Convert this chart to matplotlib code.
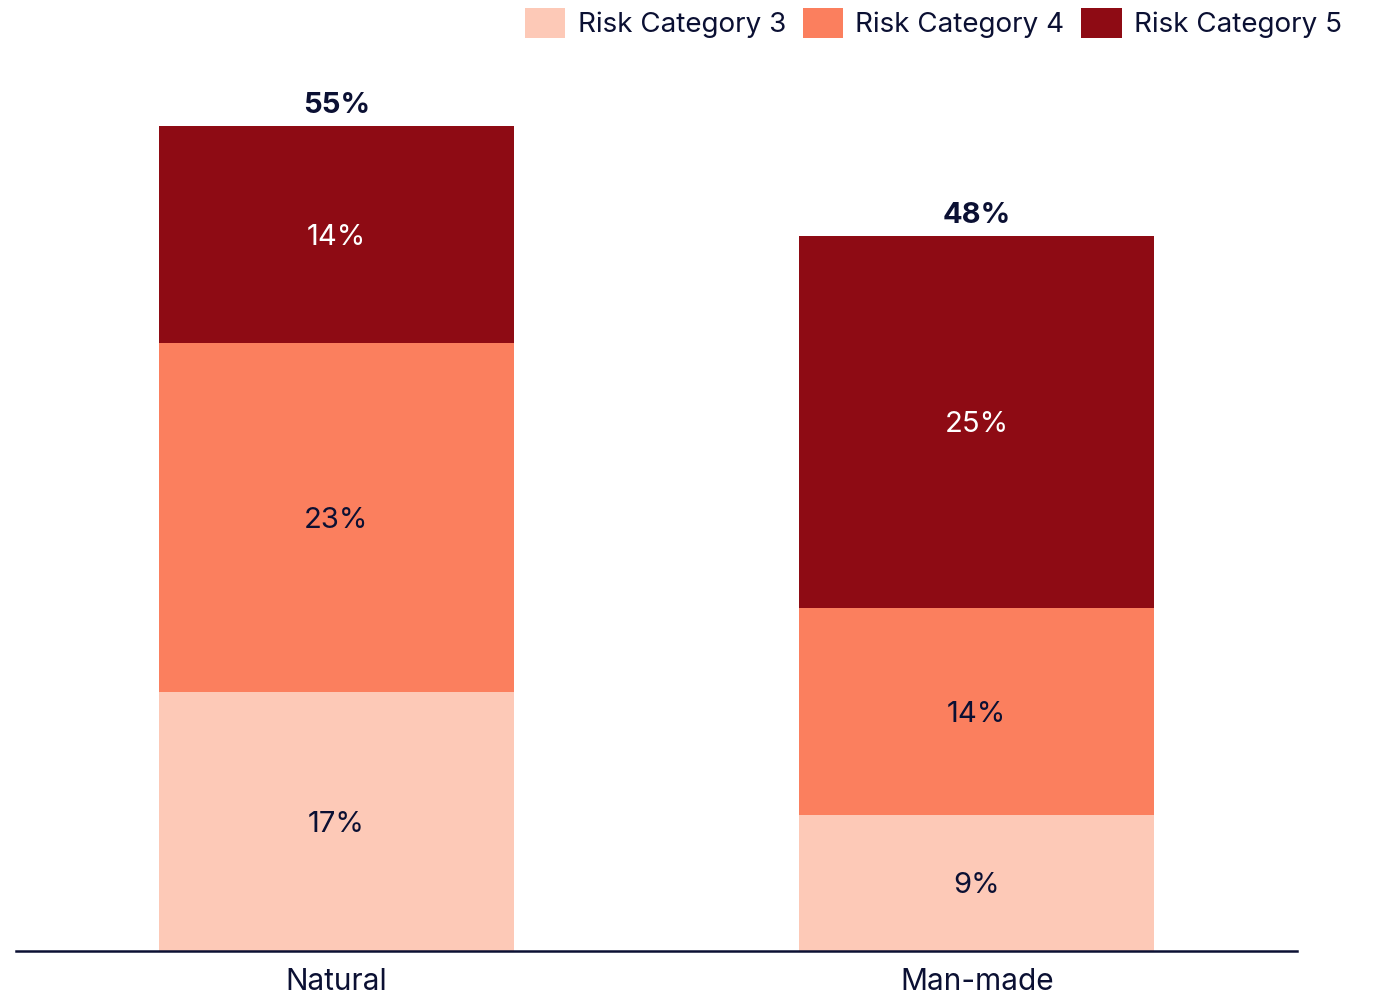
import matplotlib
matplotlib.use("Agg")
import matplotlib.pyplot as plt
from matplotlib.patches import Patch

plt.rcParams['font.family'] = ['Inter', 'DejaVu Sans']

categories = ["Natural", "Man-made"]
series_names = ["Risk Category 3", "Risk Category 4", "Risk Category 5"]
cat3 = [17.3, 9.1]
cat4 = [23.2, 13.8]
cat5 = [14.5, 24.8]
series = [cat3, cat4, cat5]

colors = ["#FDC9B7", "#FB7F5E", "#8E0B14"]
label_colors = ["#0B1033", "#0B1033", "#FFFFFF"]
ink = "#0B1033"

W, H = 1388, 997
fig = plt.figure(figsize=(W / 100, H / 100), dpi=100)
ax = fig.add_axes([16 / W, 46 / H, 1281 / W, 900 / H])

x = list(range(len(categories)))
width = 0.555
bottoms = [0.0] * len(categories)
for vals, col, tcol in zip(series, colors, label_colors):
    ax.bar(x, vals, width=width, bottom=bottoms, color=col, edgecolor="none")
    for xi, v, b in zip(x, vals, bottoms):
        ax.text(xi, b + v / 2, f"{round(v)}%", ha="center", va="center_baseline",
                fontsize=21, color=tcol)
    bottoms = [b + v for b, v in zip(bottoms, vals)]

for xi, tot in zip(x, bottoms):
    ax.text(xi, tot + 0.45, f"{round(tot)}%", ha="center", va="bottom",
            fontsize=21, fontweight="bold", color=ink)

ax.set_xlim(-0.5, 1.5)
ax.set_ylim(0, 60)
ax.set_xticks(x)
ax.set_xticklabels(categories, fontsize=21.5, color=ink)
ax.tick_params(axis="x", length=0, pad=12)
ax.set_yticks([])
for side in ["top", "right", "left"]:
    ax.spines[side].set_visible(False)
ax.spines["bottom"].set_color(ink)
ax.spines["bottom"].set_linewidth(1.8)

handles = [Patch(facecolor=c, edgecolor="none") for c in colors]
fig.legend(handles, series_names, loc="upper right",
           bbox_to_anchor=(1342 / W, 1 - 8 / H),
           ncol=3, frameon=False, fontsize=20, handlelength=1.45, handleheight=1.3,
           handletextpad=0.45, columnspacing=0.6, labelcolor=ink,
           borderaxespad=0, borderpad=0)

fig.savefig("out.png", dpi=100)
